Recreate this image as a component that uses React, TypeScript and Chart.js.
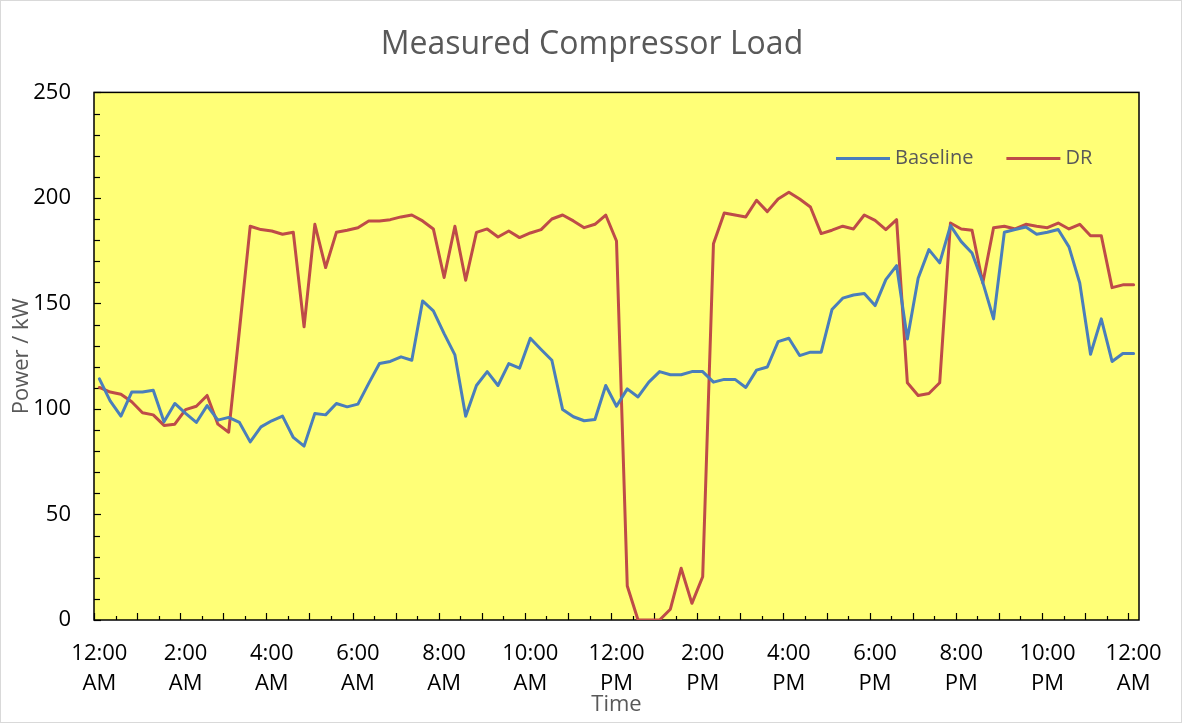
import React, { useEffect, useRef } from "react";
import { Chart, registerables } from "chart.js";

Chart.register(...registerables);

// ---- Data ----
const TITLE = "Measured Compressor Load";
const X_TITLE = "Time";
const Y_TITLE = "Power / kW";
const SERIES_NAMES = ["Baseline", "DR"];

// 15-minute readings from 12:00 AM to 12:00 AM (97 points)
const baseline = [
  114.3, 103.8, 96.6, 108, 108, 108.9, 93.9, 102.6, 97.9, 93.6,
  101.6, 94.7, 96, 93.6, 84.4, 91.5, 94.4, 96.6, 86.5, 82.4,
  97.9, 97.2, 102.6, 101, 102.3, 112.1, 121.5, 122.5, 124.7, 123.1,
  151.2, 146.5, 135.7, 125.6, 96.6, 111.1, 117.7, 111.1, 121.5, 119.3,
  133.5, 128.2, 123.1, 99.7, 96.3, 94.4, 95, 111.1, 101.3, 109.5,
  105.7, 112.7, 117.7, 116.2, 116.2, 117.7, 117.7, 112.7, 114, 114,
  110.2, 118.4, 119.9, 131.9, 133.5, 125.3, 126.9, 126.9, 147.1, 152.5,
  154, 154.7, 149, 161.3, 167.9, 133.2, 161.9, 175.5, 169.2, 186.9,
  179.3, 173.9, 160, 142.7, 183.7, 185, 186.2, 182.8, 183.7, 185,
  176.8, 159.7, 125.9, 142.7, 122.5, 126.3, 126.3,
];

const dr = [
  110.2, 108, 107, 103.4, 98.2, 97.2, 92.2, 92.8, 99.7, 101.3,
  106.4, 92.8, 89, 137.3, 186.6, 185, 184.3, 182.8, 183.7, 138.9,
  187.5, 167, 183.7, 184.7, 185.9, 189.1, 189.1, 189.7, 191, 191.9,
  189.1, 185.3, 162.3, 186.6, 161, 183.7, 185.3, 181.5, 184.3, 181.2,
  183.4, 185, 190, 191.9, 189.1, 185.9, 187.5, 191.9, 179.6, 16.1,
  0, 0, 0, 5.1, 24.5, 7.9, 20.5, 178.3, 192.9, 191.9,
  191, 198.9, 193.5, 199.5, 202.7, 199.5, 195.7, 183.1, 184.7, 186.6,
  185.3, 191.9, 189.4, 185, 189.7, 112.4, 106.4, 107.3, 112.4, 188.1,
  185.3, 184.7, 159.7, 185.9, 186.6, 185.3, 187.5, 186.6, 185.9, 188.1,
  185.3, 187.5, 182.1, 182.1, 157.5, 158.8, 158.8,
];

// x tick labels shown every 2 hours
const tickLabels = [
  "12:00 AM", "2:00 AM", "4:00 AM", "6:00 AM", "8:00 AM", "10:00 AM",
  "12:00 PM", "2:00 PM", "4:00 PM", "6:00 PM", "8:00 PM", "10:00 PM", "12:00 AM",
];
const LABEL_EVERY = 8; // categories between labels
const categories: string[] = baseline.map((_, i) => `t${i}`);

const Y_MIN = 0;
const Y_MAX = 250;
const Y_STEP = 50;

// ---- Styles ----
const BLUE = "#4A7EBB";
const RED = "#BE4B48";
const PLOT_BG = "#FFFF77";
const TEXT_GRAY = "#595959";
const FONT = "'Open Sans', 'DejaVu Sans', sans-serif";

const decorPlugin = {
  id: "decor",
  beforeDraw(chart: any) {
    const { ctx, chartArea: a, width, height } = chart;
    ctx.save();
    ctx.fillStyle = "#ffffff";
    ctx.fillRect(0, 0, width, height);
    ctx.strokeStyle = "#D9D9D9";
    ctx.lineWidth = 1;
    ctx.strokeRect(0.5, 0.5, width - 3, height - 3);
    ctx.fillStyle = PLOT_BG;
    ctx.fillRect(a.left, a.top, a.right - a.left, a.bottom - a.top);
    ctx.restore();
  },
  beforeDatasetsDraw(chart: any) {
    const { ctx, chartArea: a, scales } = chart;
    const xs = scales.x;
    const ys = scales.y;
    ctx.save();
    ctx.strokeStyle = "#000000";
    ctx.lineWidth = 1.2;
    // y minor/major tick marks (inside)
    for (let v = Y_MIN; v <= Y_MAX; v += 10) {
      const py = Math.round(ys.getPixelForValue(v)) + 0.5;
      ctx.beginPath();
      ctx.moveTo(a.left, py);
      ctx.lineTo(a.left + (v % 50 === 0 ? 7 : 6), py);
      ctx.stroke();
    }
    // x tick marks at category boundaries (inside)
    const n = categories.length;
    const half = (xs.getPixelForValue(1) - xs.getPixelForValue(0)) / 2;
    for (let k = 0; k < n; k += 2) {
      const px = Math.round(xs.getPixelForValue(k) - half) + 0.5;
      ctx.beginPath();
      ctx.moveTo(px, a.bottom);
      ctx.lineTo(px, a.bottom - (k % 4 === 0 ? 7 : 4));
      ctx.stroke();
    }
    ctx.lineWidth = 1.5;
    ctx.strokeRect(a.left, a.top, a.right - a.left, a.bottom - a.top);
    ctx.restore();
  },
  afterDraw(chart: any) {
    const { ctx, chartArea: a } = chart;
    const colors = [BLUE, RED];
    ctx.save();
    ctx.font = `20px ${FONT}`;
    ctx.textBaseline = "middle";
    ctx.textAlign = "left";
    let x = a.right - 303;
    const y = a.top + 66;
    SERIES_NAMES.forEach((name, i) => {
      ctx.strokeStyle = colors[i];
      ctx.lineWidth = 3;
      ctx.beginPath();
      ctx.moveTo(x, y);
      ctx.lineTo(x + 54, y);
      ctx.stroke();
      x += 59;
      ctx.fillStyle = TEXT_GRAY;
      ctx.fillText(name, x, y);
      x += ctx.measureText(name).width + 33;
    });
    ctx.restore();
  },
};

export default function App() {
  const canvasRef = useRef<HTMLCanvasElement | null>(null);

  useEffect(() => {
    const canvas = canvasRef.current;
    if (!canvas) return;
    const chart = new Chart(canvas, {
      type: "line",
      data: {
        labels: categories,
        datasets: [
          {
            label: SERIES_NAMES[0],
            data: baseline,
            borderColor: BLUE,
            backgroundColor: BLUE,
            borderWidth: 3,
            pointRadius: 0,
            tension: 0,
            borderJoinStyle: "round",
            borderCapStyle: "round",
          },
          {
            label: SERIES_NAMES[1],
            data: dr,
            borderColor: RED,
            backgroundColor: RED,
            borderWidth: 3,
            pointRadius: 0,
            tension: 0,
            borderJoinStyle: "round",
            borderCapStyle: "round",
          },
        ],
      },
      options: {
        animation: false,
        responsive: true,
        maintainAspectRatio: false,
        layout: { padding: { left: 0, right: 0, top: 0, bottom: 0 } },
        plugins: {
          legend: { display: false },
          tooltip: { enabled: false },
          title: {
            display: true,
            text: TITLE,
            color: TEXT_GRAY,
            font: { family: FONT, size: 32, weight: "normal", lineHeight: 1.2 },
            padding: { top: 26, bottom: 28 },
          },
        },
        scales: {
          x: {
            type: "category",
            offset: true,
            grid: { display: false, drawTicks: false },
            border: { display: false },
            afterFit: (s: any) => {
              s.height = 105;
            },
            ticks: {
              autoSkip: false,
              maxRotation: 0,
              minRotation: 0,
              padding: 19,
              color: "#000000",
              font: { family: FONT, size: 22, lineHeight: 1.36 },
              callback: (_v: any, idx: number) =>
                idx % LABEL_EVERY === 0 ? tickLabels[idx / LABEL_EVERY].split(" ") : "",
            },
            title: {
              display: true,
              text: X_TITLE,
              color: TEXT_GRAY,
              font: { family: FONT, size: 22, lineHeight: 1.1 },
              padding: { top: 0, bottom: 8 },
            },
          },
          y: {
            min: Y_MIN,
            max: Y_MAX,
            grid: { display: false, drawTicks: false },
            border: { display: false },
            afterFit: (s: any) => {
              s.width = 94;
            },
            ticks: {
              stepSize: Y_STEP,
              padding: 23,
              color: "#000000",
              font: { family: FONT, size: 22 },
            },
            title: {
              display: true,
              text: Y_TITLE,
              color: TEXT_GRAY,
              font: { family: FONT, size: 22, lineHeight: 1.1 },
              padding: { top: 10, bottom: 0 },
            },
          },
          yRight: {
            position: "right",
            min: Y_MIN,
            max: Y_MAX,
            grid: { display: false, drawTicks: false },
            border: { display: false },
            ticks: { display: false },
            afterFit: (s: any) => {
              s.width = 45;
            },
          },
        },
      } as any,
      plugins: [decorPlugin],
    });
    return () => chart.destroy();
  }, []);

  return (
    <div style={{ position: "absolute", left: 0, top: 0, width: 1184, height: 725 }}>
      <canvas ref={canvasRef} />
    </div>
  );
}
